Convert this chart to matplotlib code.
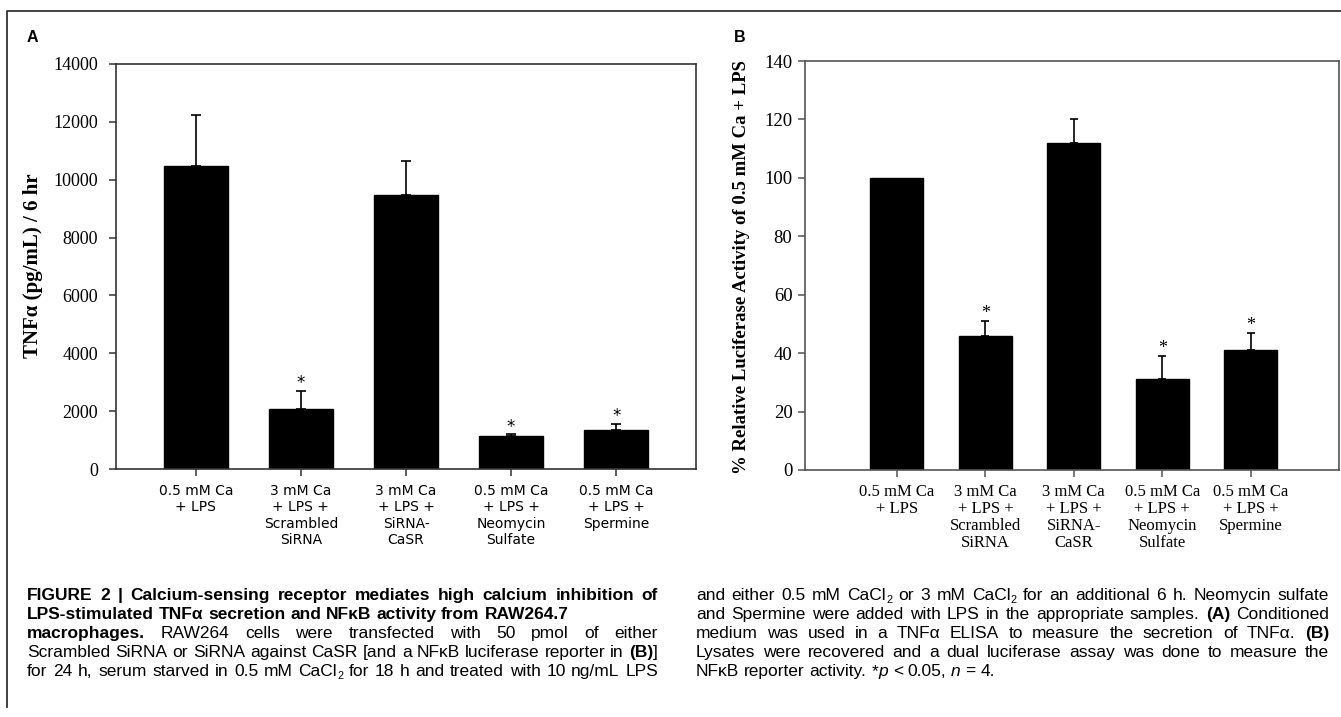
import numpy as np
import matplotlib
matplotlib.use("Agg")
import matplotlib.pyplot as plt
from matplotlib.lines import Line2D

# Data
conditions = ["0.5 mM Ca\n+ LPS",
              "3 mM Ca\n+ LPS +\nScrambled\nSiRNA",
              "3 mM Ca\n+ LPS +\nSiRNA-\nCaSR",
              "0.5 mM Ca\n+ LPS +\nNeomycin\nSulfate",
              "0.5 mM Ca\n+ LPS +\nSpermine"]
tnf_mean = [10470, 2070, 9470, 1140, 1350]
tnf_err = [1770, 630, 1180, 60, 210]
luc_mean = [100, 46, 112, 31, 41]
luc_err = [0, 5, 8, 8, 6]
significant = [False, True, False, True, True]
tnf_ticks = list(range(0, 14001, 2000))
luc_ticks = list(range(0, 141, 20))

W, H = 1341, 717
fig = plt.figure(figsize=(W / 100, H / 100), dpi=100)
fig.patch.set_facecolor("white")

cap_font = ["Liberation Sans", "DejaVu Sans"]
serif = "Liberation Serif"


def fx(px):
    return px / W


def fy(py):
    return 1 - py / H


# outer frame of the figure
fig.add_artist(Line2D([fx(7), fx(7), fx(W)], [fy(707), fy(11), fy(11)],
                      color="#333333", lw=1.3, transform=fig.transFigure))


def style_axes(ax, col):
    for s in ax.spines.values():
        s.set_color(col)
        s.set_linewidth(1.2)
    ax.tick_params(direction="out", length=5, width=1.1, color=col)


x = np.arange(len(conditions))


def up_errors(ax, means, errs, capsize):
    m = np.array(errs) > 0
    xs = x[m]
    ys = np.array(means)[m]
    es = np.array(errs)[m]
    ax.errorbar(xs, ys, yerr=[np.zeros(len(xs)), es], fmt="none",
                ecolor="black", elinewidth=1.2, capsize=capsize, capthick=1.2)


# ---- panel A ----
axA = fig.add_axes([fx(116), fy(469), fx(696) - fx(116), fy(64) - fy(469)])
axA.bar(x, tnf_mean, width=0.61, color="black", edgecolor="black")
up_errors(axA, tnf_mean, tnf_err, 3.5)
axA.set_xlim(-0.76, 4.76)
axA.set_ylim(0, 14000)
axA.set_yticks(tnf_ticks)
axA.set_yticklabels([str(t) for t in tnf_ticks], fontfamily=serif, fontsize=13)
axA.set_xticks(x)
axA.set_xticklabels(conditions, fontfamily="DejaVu Sans", fontsize=10, linespacing=1.2)
style_axes(axA, "#333333")
axA.tick_params(axis="y", pad=8)
axA.tick_params(axis="x", pad=6)
for i in x:
    if significant[i]:
        axA.annotate("*", (x[i], tnf_mean[i] + tnf_err[i]), xytext=(0, -1),
                     textcoords="offset points", ha="center", va="bottom",
                     fontsize=12, fontfamily="DejaVu Sans")
fig.text(fx(33), fy(266), "TNFα (pg/mL) / 6 hr", rotation=90, ha="center",
         va="center", fontfamily=serif, fontweight="bold", fontsize=15)
fig.text(fx(27), fy(38), "A", ha="left", va="center", fontfamily="Liberation Sans",
         fontweight="bold", fontsize=11.5)

# ---- panel B ----
axB = fig.add_axes([fx(805), fy(470), fx(1339) - fx(805), fy(61) - fy(470)])
axB.bar(x, luc_mean, width=0.6, color="black", edgecolor="black")
up_errors(axB, luc_mean, luc_err, 3.2)
axB.set_xlim(-1.04, 5.0)
axB.set_ylim(0, 140)
axB.set_yticks(luc_ticks)
axB.set_yticklabels([str(t) for t in luc_ticks], fontfamily=serif, fontsize=13.5)
axB.set_xticks(x)
axB.set_xticklabels(conditions, fontfamily=serif, fontsize=12, linespacing=1.1)
style_axes(axB, "#555555")
axB.tick_params(axis="y", pad=4)
axB.tick_params(axis="x", pad=5)
for i in x:
    if significant[i]:
        axB.annotate("*", (x[i], luc_mean[i] + luc_err[i]), xytext=(0, -1),
                     textcoords="offset points", ha="center", va="bottom",
                     fontsize=13, fontfamily=serif)
fig.text(fx(742), fy(267), "% Relative Luciferase Activity of 0.5 mM Ca + LPS",
         rotation=90, ha="center", va="center", fontfamily=serif,
         fontweight="bold", fontsize=13.5)
fig.text(fx(734), fy(38), "B", ha="left", va="center", fontfamily="Liberation Sans",
         fontweight="bold", fontsize=11.5)

# ---- caption ----
renderer = fig.canvas.get_renderer()
CAP_SIZE = 10.0


def piece_kw(style, size=None):
    size = size or CAP_SIZE
    kw = dict(fontfamily=cap_font, fontsize=size)
    if style == "b":
        kw["fontweight"] = "bold"
    elif style == "i":
        kw["fontstyle"] = "italic"
    elif style == "sub":
        kw["fontsize"] = size * 0.62
    return kw


def piece_width(s, style, size=None):
    t = fig.text(0, 0, s, **piece_kw(style, size))
    w = t.get_window_extent(renderer).width
    t.remove()
    return w


# fit the caption font so a full-width line roughly matches the column width
probe = "Lysates were recovered and a dual luciferase assay was done to measure the"
CAP_SIZE = 10.0 * 600 / piece_width(probe, "r", 10.0)


def draw_line(x0, x1, base, runs, justify):
    words = [[]]
    for text, style in runs:
        parts = text.split(" ")
        for k, p in enumerate(parts):
            if k > 0:
                words.append([])
            if p:
                words[-1].append((p, style))
    words = [w for w in words if w]
    widths = [sum(piece_width(p, s) for p, s in w) for w in words]
    space = piece_width("x x", "r") - piece_width("xx", "r")
    if justify and len(words) > 1:
        gap = (x1 - x0 - sum(widths)) / (len(words) - 1)
    else:
        gap = space
    cx = x0
    for w, ww in zip(words, widths):
        px = cx
        for p, s in w:
            yy = base + (3 if s == "sub" else 0)
            fig.text(fx(px), fy(yy), p, ha="left", va="baseline", **piece_kw(s))
            px += piece_width(p, s)
        cx += ww + gap


left_lines = [
    ([("FIGURE 2 | Calcium-sensing receptor mediates high calcium inhibition of", "b")], True),
    ([("LPS-stimulated TNFα secretion and NFκB activity from RAW264.7", "b")], False),
    ([("macrophages.", "b"), (" RAW264 cells were transfected with 50 pmol of either", "r")], True),
    ([("Scrambled SiRNA or SiRNA against CaSR [and a NFκB luciferase reporter in ", "r"),
      ("(B)", "b"), ("]", "r")], True),
    ([("for 24 h, serum starved in 0.5 mM CaCl", "r"), ("2", "sub"),
      (" for 18 h and treated with 10 ng/mL LPS", "r")], True),
]
right_lines = [
    ([("and either 0.5 mM CaCl", "r"), ("2", "sub"), (" or 3 mM CaCl", "r"), ("2", "sub"),
      (" for an additional 6 h. Neomycin sulfate", "r")], True),
    ([("and Spermine were added with LPS in the appropriate samples. ", "r"),
      ("(A)", "b"), (" Conditioned", "r")], True),
    ([("medium was used in a TNFα ELISA to measure the secretion of TNFα. ", "r"),
      ("(B)", "b")], True),
    ([("Lysates were recovered and a dual luciferase assay was done to measure the", "r")], True),
    ([("NFκB reporter activity. *", "r"), ("p", "i"), (" < 0.05, ", "r"), ("n", "i"),
      (" = 4.", "r")], False),
]
baselines = [600, 619, 638, 657, 676]
for (runs, just), b in zip(left_lines, baselines):
    draw_line(27, 658, b, runs, just)
for (runs, just), b in zip(right_lines, baselines):
    draw_line(696, 1329, b, runs, just)

fig.savefig("out.png", dpi=100, facecolor="white")
